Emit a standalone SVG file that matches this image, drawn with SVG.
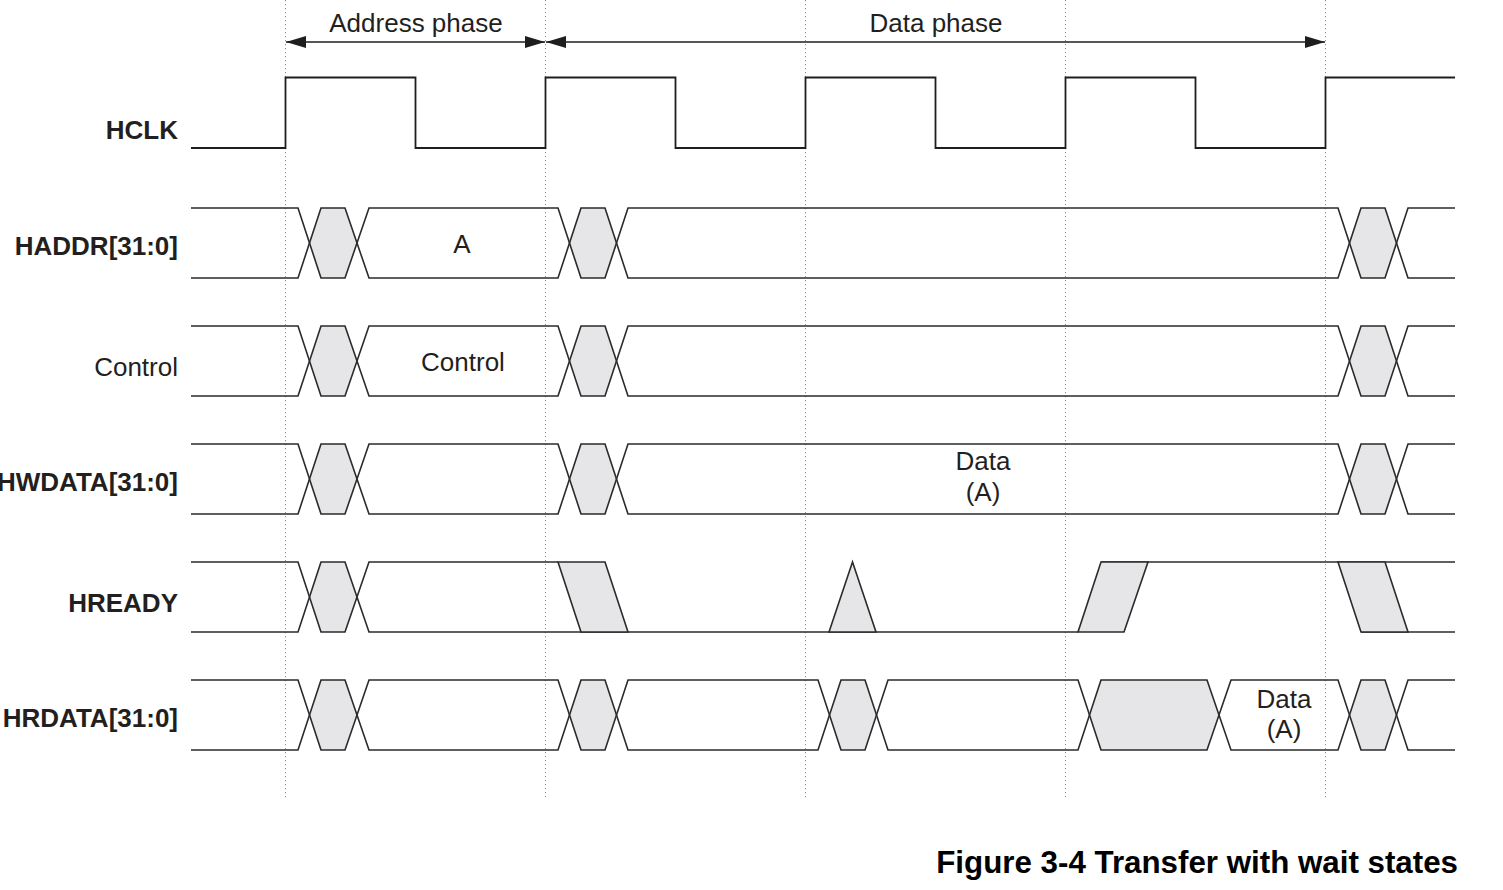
<svg xmlns="http://www.w3.org/2000/svg" width="1503" height="890" viewBox="0 0 1503 890">
<style>
  .bg{fill:#ffffff}
  .grid{stroke:#8a8a8a;stroke-width:1;stroke-dasharray:1.2,2.8;fill:none}
  .trace{stroke:#2b2b2b;stroke-width:1.6;fill:none;stroke-linejoin:miter}
  .clk{stroke:#1e1e1e;stroke-width:1.8;fill:none}
  .hex{fill:#e6e6e8;stroke:none}
  .shape{fill:#e6e6e8;stroke:#2b2b2b;stroke-width:1.6;stroke-linejoin:miter}
  .lbl{font-family:"Liberation Sans",Arial,sans-serif;font-size:26px;fill:#231f20}
  .b{font-weight:bold}
  .r{text-anchor:end}
  .c{text-anchor:middle}
  .arrow{stroke:#1e1e1e;stroke-width:1.6;fill:none}
  .title{font-family:"Liberation Sans",Arial,sans-serif;font-size:31.3px;font-weight:bold;fill:#000;text-anchor:end}
</style>
<defs>
  <marker id="ah" viewBox="0 0 20 12" refX="20" refY="6" markerWidth="20" markerHeight="12" markerUnits="userSpaceOnUse" orient="auto-start-reverse">
    <path d="M0,0 L20,6 L0,12 Z" fill="#1e1e1e"/>
  </marker>
</defs>
<rect class="bg" x="0" y="0" width="1503" height="890"/>

<g id="gridlines">
  <line class="grid" x1="285.5" y1="0" x2="285.5" y2="800"/>
  <line class="grid" x1="545.5" y1="0" x2="545.5" y2="800"/>
  <line class="grid" x1="805.5" y1="0" x2="805.5" y2="800"/>
  <line class="grid" x1="1065.5" y1="0" x2="1065.5" y2="800"/>
  <line class="grid" x1="1325.5" y1="0" x2="1325.5" y2="800"/>
</g>

<g id="connectors">
  <line class="arrow" x1="286" y1="42" x2="545" y2="42" marker-start="url(#ah)" marker-end="url(#ah)"/>
  <line class="arrow" x1="546" y1="42" x2="1325" y2="42" marker-start="url(#ah)" marker-end="url(#ah)"/>
  <text class="lbl c" x="416" y="32">Address phase</text>
  <text class="lbl c" x="936" y="32">Data phase</text>
</g>

<g id="HCLK">
  <text class="lbl b r" x="178" y="139">HCLK</text>
  <path class="clk" d="M191,148 H285.5 V77.5 H415.5 V148 H545.5 V77.5 H675.5 V148 H805.5 V77.5 H935.5 V148 H1065.5 V77.5 H1195.5 V148 H1325.5 V77.5 H1455"/>
</g>

<g id="HADDR">
  <text class="lbl b r" x="178" y="255">HADDR[31:0]</text>
  <polygon class="hex" points="309.5,243 321,208 345,208 357,243 345,278 321,278"/>
  <polygon class="hex" points="569.5,243 581,208 605,208 617,243 605,278 581,278"/>
  <polygon class="hex" points="1349.5,243 1361,208 1385,208 1397,243 1385,278 1361,278"/>
  <path class="trace" d="M191,208 H298 L321,278 H345 L369,208 H558 L581,278 H605 L628,208 H1338 L1361,278 H1385 L1408,208 H1455"/>
  <path class="trace" d="M191,278 H298 L321,208 H345 L369,278 H558 L581,208 H605 L628,278 H1338 L1361,208 H1385 L1408,278 H1455"/>
  <text class="lbl c" x="462" y="253">A</text>
</g>

<g id="Control">
  <text class="lbl r" x="178" y="376">Control</text>
  <polygon class="hex" points="309.5,361 321,326 345,326 357,361 345,396 321,396"/>
  <polygon class="hex" points="569.5,361 581,326 605,326 617,361 605,396 581,396"/>
  <polygon class="hex" points="1349.5,361 1361,326 1385,326 1397,361 1385,396 1361,396"/>
  <path class="trace" d="M191,326 H298 L321,396 H345 L369,326 H558 L581,396 H605 L628,326 H1338 L1361,396 H1385 L1408,326 H1455"/>
  <path class="trace" d="M191,396 H298 L321,326 H345 L369,396 H558 L581,326 H605 L628,396 H1338 L1361,326 H1385 L1408,396 H1455"/>
  <text class="lbl c" x="463" y="371">Control</text>
</g>

<g id="HWDATA">
  <text class="lbl b r" x="178" y="491">HWDATA[31:0]</text>
  <polygon class="hex" points="309.5,479 321,444 345,444 357,479 345,514 321,514"/>
  <polygon class="hex" points="569.5,479 581,444 605,444 617,479 605,514 581,514"/>
  <polygon class="hex" points="1349.5,479 1361,444 1385,444 1397,479 1385,514 1361,514"/>
  <path class="trace" d="M191,444 H298 L321,514 H345 L369,444 H558 L581,514 H605 L628,444 H1338 L1361,514 H1385 L1408,444 H1455"/>
  <path class="trace" d="M191,514 H298 L321,444 H345 L369,514 H558 L581,444 H605 L628,514 H1338 L1361,444 H1385 L1408,514 H1455"/>
  <text class="lbl c" x="983" y="470">Data</text>
  <text class="lbl c" x="983" y="501">(A)</text>
</g>

<g id="HREADY">
  <text class="lbl b r" x="178" y="612">HREADY</text>
  <polygon class="hex" points="309.5,597 321,562 345,562 357,597 345,632 321,632"/>
  <path class="trace" d="M191,562 H298 L321,632 H345 L369,562 H558"/>
  <path class="trace" d="M191,632 H298 L321,562 H345 L369,632 H1078"/>
  <path class="trace" d="M1101,562 H1455"/>
  <path class="trace" d="M1361,632 H1455"/>
  <polygon class="shape" points="558,562 605,562 628,632 581,632"/>
  <polygon class="shape" points="829,632 852.5,562 876,632"/>
  <polygon class="shape" points="1078,632 1124,632 1148,562 1101,562"/>
  <polygon class="shape" points="1338,562 1385,562 1408,632 1361,632"/>
</g>

<g id="HRDATA">
  <text class="lbl b r" x="178" y="727">HRDATA[31:0]</text>
  <polygon class="hex" points="309.5,715 321,680 345,680 357,715 345,750 321,750"/>
  <polygon class="hex" points="569.5,715 581,680 605,680 617,715 605,750 581,750"/>
  <polygon class="hex" points="829.5,715 841,680 865,680 877,715 865,750 841,750"/>
  <polygon class="hex" points="1089.5,715 1101,680 1207,680 1219,715 1207,750 1101,750"/>
  <polygon class="hex" points="1349.5,715 1361,680 1385,680 1397,715 1385,750 1361,750"/>
  <path class="trace" d="M191,680 H298 L321,750 H345 L369,680 H558 L581,750 H605 L628,680 H818 L841,750 H865 L888,680 H1078 L1101,750 H1207 L1231,680 H1338 L1361,750 H1385 L1408,680 H1455"/>
  <path class="trace" d="M191,750 H298 L321,680 H345 L369,750 H558 L581,680 H605 L628,750 H818 L841,680 H865 L888,750 H1078 L1101,680 H1207 L1231,750 H1338 L1361,680 H1385 L1408,750 H1455"/>
  <text class="lbl c" x="1284" y="708">Data</text>
  <text class="lbl c" x="1284" y="738">(A)</text>
</g>

<text class="title" x="1458" y="873">Figure 3-4 Transfer with wait states</text>
</svg>
